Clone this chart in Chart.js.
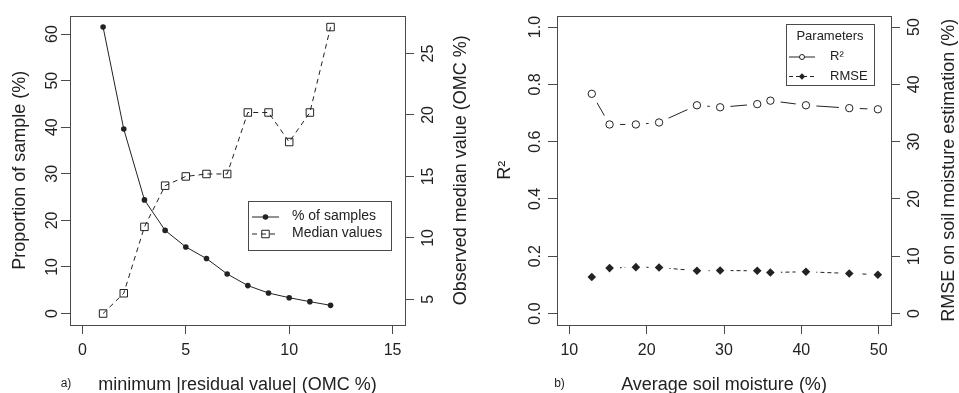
<!DOCTYPE html>
<html>
<head>
<meta charset="utf-8">
<script src="https://cdn.jsdelivr.net/npm/chart.js@4.4.1/dist/chart.umd.min.js"></script>
<style>
  html, body { margin: 0; padding: 0; background: #fff; }
  #wrap { position: relative; width: 959px; height: 393px; }
  .panel { position: absolute; top: 0; height: 393px; }
  #panelA { left: 0; width: 480px; }
  #panelB { left: 480px; width: 479px; }
</style>
</head>
<body>
<div id="wrap">
  <div class="panel" id="panelA"><canvas id="chartA" width="480" height="393"></canvas></div>
  <div class="panel" id="panelB"><canvas id="chartB" width="479" height="393"></canvas></div>
</div>
<script>
// panel a) : minimum |residual value| vs share of samples / median value
const residualSteps = [1, 2, 3, 4, 5, 6, 7, 8, 9, 10, 11, 12];
const samplesPct = [61.5, 39.6, 24.4, 17.85, 14.3, 11.8, 8.5, 6.0, 4.4, 3.4, 2.55, 1.76];
const medianValues = [3.85, 5.5, 10.9, 14.25, 15.0, 15.2, 15.2, 20.2, 20.2, 17.8, 20.2, 27.15];
const ticksResidual = [0, 5, 10, 15];
const ticksSamples = [0, 10, 20, 30, 40, 50, 60];
const ticksMedian = [5, 10, 15, 20, 25];

// panel b) : average soil moisture vs R² / RMSE
const soilMoisture = [12.9, 15.2, 18.6, 21.6, 26.5, 29.5, 34.3, 36.0, 40.6, 46.2, 49.9];
const r2Values = [0.767, 0.66, 0.66, 0.667, 0.727, 0.72, 0.731, 0.743, 0.727, 0.717, 0.713];
const rmseValues = [6.38, 7.93, 8.1, 8.03, 7.47, 7.5, 7.47, 7.17, 7.29, 7.0, 6.78];
const ticksMoisture = [10, 20, 30, 40, 50];
const ticksR2 = [0, 0.2, 0.4, 0.6, 0.8, 1.0];
const ticksRmse = [0, 10, 20, 30, 40, 50];

const FONT = "'Liberation Sans', Arial, Helvetica, sans-serif";
const INK = '#222';
const FRAME = '#4a4a4a';

Chart.defaults.font.family = FONT;
Chart.defaults.color = INK;

// R extends every axis range by 4% on each side
function rRange(lo, hi) {
    const d = (hi - lo) * 0.04;
    return [lo - d, hi + d];
}

function pts(xs, ys) {
    return xs.map((x, i) => ({ x: x, y: ys[i] }));
}

function axis(position, lim, tickValues, o) {
    const vertical = position !== 'bottom';
    return {
        type: 'linear',
        position: position,
        min: lim[0],
        max: lim[1],
        afterBuildTicks: s => { s.ticks = tickValues.map(v => ({ value: v })); },
        afterFit: s => { if (vertical) s.width = o.size; else s.height = o.size; },
        grid: { drawOnChartArea: false, tickLength: 9, color: FRAME, lineWidth: 1 },
        border: { display: false },
        ticks: {
            color: INK,
            font: { size: 16 },
            padding: o.pad,
            minRotation: vertical ? 90 : 0,
            maxRotation: vertical ? 90 : 0,
            crossAlign: vertical ? 'center' : 'near',
            callback: o.fmt || (v => String(v))
        },
        title: o.title
            ? { display: true, text: o.title, color: INK, font: { size: 18 }, padding: o.titlePad }
            : { display: false }
    };
}

function drawMarker(ctx, style, x, y, r, fill, stroke) {
    ctx.beginPath();
    if (style === 'rect') {
        const h = r * Math.SQRT1_2;
        ctx.rect(x - h, y - h, 2 * h, 2 * h);
    } else if (style === 'rectRot') {
        ctx.moveTo(x - r, y); ctx.lineTo(x, y - r); ctx.lineTo(x + r, y); ctx.lineTo(x, y + r); ctx.closePath();
    } else {
        ctx.arc(x, y, r, 0, Math.PI * 2);
    }
    if (fill && fill !== 'rgba(0,0,0,0)') { ctx.fillStyle = fill; ctx.fill(); }
    if (stroke) { ctx.strokeStyle = stroke; ctx.lineWidth = 1; ctx.stroke(); }
}

// box, right-hand title (read bottom to top), panel tag and legend, R style
const rDecor = {
    id: 'rDecor',
    afterDraw(chart, args, o) {
        const ctx = chart.ctx;
        const a = chart.chartArea;
        ctx.save();
        ctx.strokeStyle = FRAME;
        ctx.lineWidth = 1;
        ctx.strokeRect(Math.round(a.left) + 0.5, Math.round(a.top) + 0.5,
            Math.round(a.right - a.left), Math.round(a.bottom - a.top));

        ctx.fillStyle = INK;
        ctx.textAlign = 'center';
        ctx.textBaseline = 'middle';
        ctx.font = '18px ' + FONT;
        ctx.save();
        ctx.translate(o.rightTitleX, (a.top + a.bottom) / 2);
        ctx.rotate(-Math.PI / 2);
        ctx.fillText(o.rightTitle, 0, 0);
        ctx.restore();

        ctx.font = '12px ' + FONT;
        ctx.fillText(o.tag, o.tagX, o.tagY);

        const lg = o.legend;
        const [bx1, by1, bx2, by2] = lg.box;
        ctx.fillStyle = '#fff';
        ctx.fillRect(bx1, by1, bx2 - bx1, by2 - by1);
        ctx.strokeStyle = FRAME;
        ctx.strokeRect(bx1 + 0.5, by1 + 0.5, bx2 - bx1, by2 - by1);
        ctx.font = lg.size + 'px ' + FONT;
        ctx.fillStyle = INK;
        if (lg.title) {
            ctx.textAlign = 'center';
            ctx.fillText(lg.title, (bx1 + bx2) / 2, lg.titleY);
        }
        lg.rows.forEach(row => {
            const ds = chart.data.datasets[row.ds];
            const lineDs = chart.data.datasets[row.lineDs == null ? row.ds : row.lineDs];
            ctx.save();
            ctx.strokeStyle = INK;
            ctx.lineWidth = 1;
            ctx.setLineDash(lineDs.borderDash || []);
            ctx.beginPath();
            ctx.moveTo(lg.lineX[0], row.y + 0.5);
            ctx.lineTo(lg.lineX[1], row.y + 0.5);
            ctx.stroke();
            ctx.setLineDash([]);
            const mx = (lg.lineX[0] + lg.lineX[1]) / 2;
            drawMarker(ctx, ds.pointStyle, mx, row.y + 0.5, row.r || ds.pointRadius,
                ds.pointBackgroundColor, ds.pointBorderWidth ? ds.pointBorderColor : null);
            ctx.restore();
            ctx.fillStyle = INK;
            ctx.textAlign = 'left';
            ctx.fillText(ds.label, lg.textX, row.y);
        });
        ctx.restore();
    }
};

const common = {
    responsive: false,
    animation: false,
    events: [],
    layout: { padding: { top: 13, left: 0, right: 0, bottom: 0 } },
    plugins: { legend: { display: false }, tooltip: { enabled: false } }
};

const chartA = new Chart(document.getElementById('chartA'), {
    type: 'line',
    data: {
        datasets: [
            {
                label: '% of samples',
                data: pts(residualSteps, samplesPct),
                yAxisID: 'y',
                borderColor: INK,
                borderWidth: 1,
                pointStyle: 'circle',
                pointRadius: 2.8,
                pointBackgroundColor: INK,
                pointBorderWidth: 0
            },
            {
                label: 'Median values',
                data: pts(residualSteps, medianValues),
                yAxisID: 'y2',
                borderColor: INK,
                borderWidth: 1,
                borderDash: [5, 4],
                pointStyle: 'rect',
                pointRadius: 5.3,
                pointBackgroundColor: 'rgba(0,0,0,0)',
                pointBorderColor: INK,
                pointBorderWidth: 1
            }
        ]
    },
    options: Object.assign({}, common, {
        scales: {
            x: axis('bottom', rRange(0, 15), ticksResidual,
                { size: 68, pad: 7, title: 'minimum |residual value| (OMC %)', titlePad: { top: 0, bottom: -3 } }),
            y: axis('left', rRange(0, Math.max(...samplesPct)), ticksSamples,
                { size: 70, pad: 0, title: 'Proportion of sample (%)', titlePad: { top: 9, bottom: 0 } }),
            y2: axis('right', rRange(Math.min(...medianValues), Math.max(...medianValues)), ticksMedian,
                { size: 75, pad: 6 })
        },
        plugins: Object.assign({}, common.plugins, {
            rDecor: {
                rightTitle: 'Observed median value (OMC %)',
                rightTitleX: 461,
                tag: 'a)', tagX: 66, tagY: 384,
                legend: {
                    box: [248, 201, 391, 250],
                    lineX: [252, 279],
                    textX: 292,
                    size: 14,
                    rows: [{ ds: 0, y: 216.5 }, { ds: 1, y: 233.5 }]
                }
            }
        })
    }),
    plugins: [rDecor]
});

// R type "b": line first, white gap under each point, then the symbol
const chartB = new Chart(document.getElementById('chartB'), {
    type: 'line',
    data: {
        datasets: [
            { label: 'R²', data: pts(soilMoisture, r2Values), yAxisID: 'y', borderColor: INK, borderWidth: 1, pointRadius: 0, order: 3 },
            { label: 'RMSE', data: pts(soilMoisture, rmseValues), yAxisID: 'y2', borderColor: INK, borderWidth: 1, borderDash: [4, 3], pointRadius: 0, order: 3 },
            { label: 'R² gap', data: pts(soilMoisture, r2Values), yAxisID: 'y', showLine: false, pointRadius: 10.5, pointBackgroundColor: '#fff', pointBorderWidth: 0, order: 2 },
            { label: 'RMSE gap', data: pts(soilMoisture, rmseValues), yAxisID: 'y2', showLine: false, pointRadius: 10.5, pointBackgroundColor: '#fff', pointBorderWidth: 0, order: 2 },
            {
                label: 'R²', data: pts(soilMoisture, r2Values), yAxisID: 'y', showLine: false,
                pointStyle: 'circle', pointRadius: 3.7, pointBackgroundColor: '#fff', pointBorderColor: INK, pointBorderWidth: 1, order: 1
            },
            {
                label: 'RMSE', data: pts(soilMoisture, rmseValues), yAxisID: 'y2', showLine: false,
                pointStyle: 'rectRot', pointRadius: 4.3, pointBackgroundColor: INK, pointBorderWidth: 0, order: 1
            }
        ]
    },
    options: Object.assign({}, common, {
        scales: {
            x: axis('bottom', rRange(10, 50), ticksMoisture,
                { size: 68, pad: 7, title: 'Average soil moisture (%)', titlePad: { top: 0, bottom: -3 } }),
            y: axis('left', rRange(0, 1), ticksR2,
                { size: 77, pad: 1, fmt: v => v.toFixed(1), title: 'R²', titlePad: { top: 14, bottom: 0 } }),
            y2: axis('right', rRange(0, 50), ticksRmse,
                { size: 68, pad: 6 })
        },
        plugins: Object.assign({}, common.plugins, {
            rDecor: {
                rightTitle: 'RMSE on soil moisture estimation (%)',
                rightTitleX: 469,
                tag: 'b)', tagX: 79.5, tagY: 384,
                legend: {
                    box: [306, 24, 394, 85],
                    title: 'Parameters',
                    titleY: 36,
                    lineX: [309, 335],
                    textX: 350,
                    size: 13,
                    rows: [{ ds: 4, lineDs: 0, y: 56.5, r: 2.5 }, { ds: 5, lineDs: 1, y: 76, r: 3.2 }]
                }
            }
        })
    }),
    plugins: [rDecor]
});
</script>
</body>
</html>
